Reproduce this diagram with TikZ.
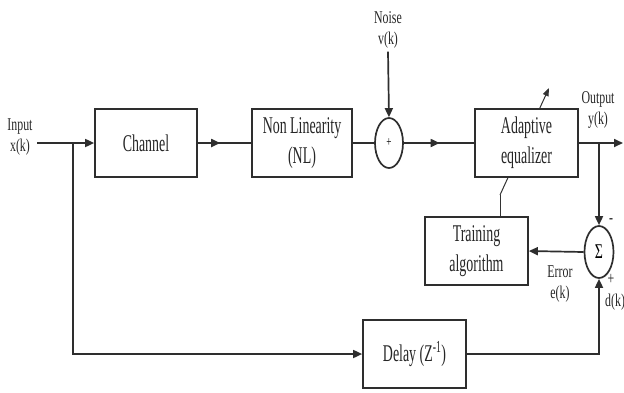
\documentclass[tikz,border=0pt]{standalone}
\usepackage{fontspec}
\setmainfont{Liberation Serif}
\newfontfamily\boxfont[FakeStretch=0.58]{Liberation Serif}
\newfontfamily\lblfont[FakeStretch=0.66]{Liberation Serif}
\usetikzlibrary{arrows.meta,decorations.markings,shapes.geometric}

\begin{document}
\begin{tikzpicture}[x=1pt,y=-1pt,
  wire/.style={draw=black!82, line width=1.7pt},
  tip/.style={-{Triangle[length=9pt,width=8pt]}},
  midarrow/.style={postaction={decorate},decoration={markings,
      mark=at position #1 with {\arrow{Triangle[length=9pt,width=8pt]}}}},
  block/.style={draw=black!82, line width=1.7pt, fill=white, rectangle,
      minimum width=103pt, minimum height=68pt, inner sep=0pt, align=center,
      font=\boxfont\fontsize{24}{30}\selectfont, text=black!85},
  junction/.style={draw=black!82, line width=1.7pt, ellipse, fill=white, inner sep=0pt},
  lbl/.style={align=center, inner sep=0pt, font=\lblfont\fontsize{18}{21}\selectfont, text=black!85},
]
\useasboundingbox (0,0) rectangle (624,392);

% adaptation arrow crossing the equalizer (drawn first, the box hides its middle)
\coordinate (adapt0) at (500,195);
\coordinate (adapt1) at (549,88);
\draw[draw=black!80, line width=1pt, -{Triangle[length=8pt,width=6pt]}] (adapt0) -- (adapt1);

% blocks
\node[block, minimum width=102pt] (ch) at (146,143) {Channel};
\node[block, minimum width=100pt] (nl) at (302,143) {Non Linearity\\(NL)};
\node[junction, minimum width=28pt, minimum height=50pt] (sum) at (389,143)
     {\lblfont\fontsize{14}{14}\selectfont +};
\node[block] (eq) at (526.5,143) {Adaptive\\equalizer};
\node[block] (tr) at (476.5,251) {Training\\algorithm};
\node[junction, minimum width=29pt, minimum height=52pt] (sig) at (599,252)
     {\lblfont\fontsize{21}{21}\selectfont Σ};
\node[block] (dl) at (414.5,354) {Delay (Z\textsuperscript{-1})};

% labels
\node[lbl] (inlbl) at (20,137) {Input\\x(k)};
\node[lbl] (noise) at (388,30) {Noise\\v(k)};
\node[lbl] (outlbl) at (598,110) {Output\\y(k)};
\node[lbl] (minus) at (611,221) {-};
\node[lbl] (plus) at (611,279) {+};
\node[lbl, anchor=west] (dk) at (605,302) {d(k)};
\node[lbl] (err) at (560,284) {Error\\e(k)};

% signal path
\coordinate (in) at (37,143);
\draw[wire, tip] (in) -- (ch.west);
\draw[wire, midarrow=0.42] (ch.east) -- (nl.west);
\draw[wire] (nl.east) -- (sum.west);
\draw[wire, midarrow=0.51] (sum.east) -- (eq.west);
\draw[wire, tip] ([yshift=-3pt]noise.south) -- (sum.north);
\coordinate (out) at (623,143);
\draw[wire, tip] (eq.east) -- (out);

% error path
\coordinate (tap) at (599,143);
\draw[wire, tip] (tap) -- (sig.north);
\draw[wire, tip] (sig.west) -- (tr.east);
\draw[draw=black!80, line width=1pt] (tr.north -| adapt0) -- (adapt0);

% reference path through the delay
\coordinate (ff) at (73,143);
\coordinate (ffc) at (73,354);
\draw[wire, tip] (ff) -- (ffc) -- (dl.west);
\coordinate (dc) at (599,354);
\draw[wire, tip] (dl.east) -- (dc) -- (sig.south);
\end{tikzpicture}
\end{document}
